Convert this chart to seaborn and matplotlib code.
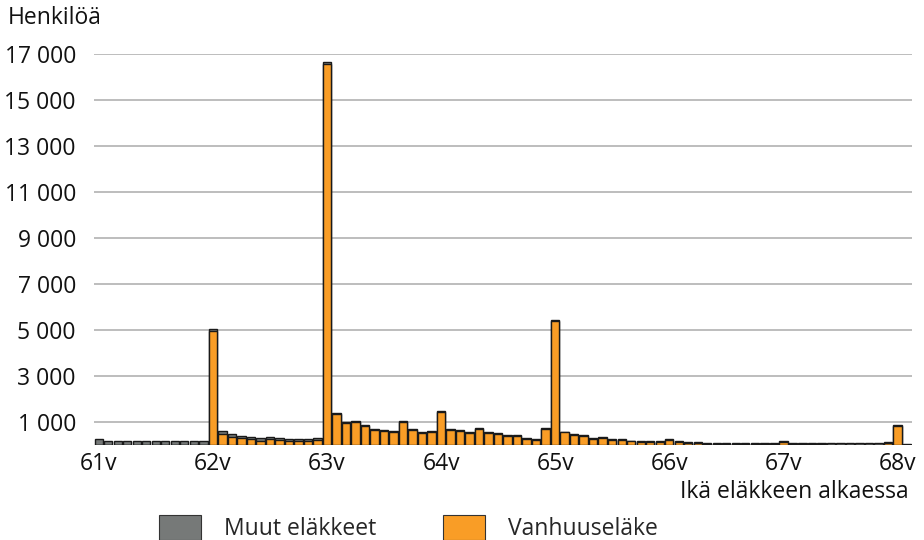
import numpy as np
import pandas as pd
import matplotlib
matplotlib.use("Agg")
import matplotlib.pyplot as plt
import matplotlib.patches as mpatches
import seaborn as sns

# Eläkkeelle siirtyneet alkamisiän (vuosi + kuukausi) mukaan
vanhuus = [0] * 12 + [
    4940, 480, 335, 300, 260, 190, 250, 200, 170, 160, 180, 210,      # 62v
    16550, 1340, 950, 990, 820, 640, 600, 570, 990, 640, 510, 570,    # 63v
    1425, 640, 600, 525, 700, 510, 495, 410, 410, 250, 220, 685,      # 64v
    5380, 545, 445, 400, 255, 300, 225, 215, 155, 140, 125, 125,      # 65v
    215, 125, 95, 80, 50, 45, 40, 35, 35, 30, 30, 30,                 # 66v
    125, 30, 30, 25, 25, 20, 20, 20, 15, 15, 15, 75,                  # 67v
    840, 0]                                                           # 68v
muut = [240, 180, 180, 185, 185, 180, 180, 180, 175, 170, 170, 190,   # 61v
        90, 140, 130, 100, 100, 110, 100, 90, 80, 80, 80, 90,         # 62v
        100] + [40] * 23 + [40] + [35] * 15 + [50] * 9 + [50] * 10 + [40, 30, 45]

ika = [f"{61 + i // 12}v{i % 12}kk" for i in range(len(vanhuus))]
tick_pos = list(range(0, 85, 12))
tick_labels = ["61v", "62v", "63v", "64v", "65v", "66v", "67v", "68v"]
y_ticks = list(range(1000, 18000, 2000))

df = pd.DataFrame({"ika": ika, "vanhuus": vanhuus, "muut": muut})
df["yht"] = df["vanhuus"] + df["muut"]

sns.set_theme(style="white")
plt.rcParams["font.family"] = ["Open Sans", "DejaVu Sans"]

harmaa = "#767978"
oranssi = "#f99d26"
fs = 16.5

fig = plt.figure(figsize=(9.24, 5.4), dpi=100)
ax = fig.add_axes([0.1017, 0.176, 0.885, 0.724])

# pinottu: harmaa = kokonaismäärä, oranssi päälle
sns.barplot(data=df, x="ika", y="yht", color=harmaa, saturation=1, width=0.88,
            edgecolor="#1a1a1a", linewidth=1.0, ax=ax, zorder=3)
sns.barplot(data=df, x="ika", y="vanhuus", color=oranssi, saturation=1, width=0.88,
            edgecolor="#1a1a1a", linewidth=1.0, ax=ax, zorder=4)

ax.set_ylim(0, 17000)
ax.set_xlim(-0.5, len(ika) - 0.5)
ax.set_yticks(y_ticks)
ax.set_yticklabels([f"{v:,}".replace(",", " ") for v in y_ticks])
ax.set_xticks(tick_pos)
ax.set_xticklabels(tick_labels)
ax.tick_params(axis="both", labelsize=fs, length=0, colors="#111111")
ax.tick_params(axis="y", pad=13)
ax.tick_params(axis="x", pad=5)
ax.yaxis.grid(True, color="#bdbdbd", linewidth=1.4, zorder=0)
ax.set_axisbelow(True)
ax.set_xlabel("")
ax.set_ylabel("")
for s in ax.spines.values():
    s.set_visible(False)

fig.text(0.008, 0.967, "Henkilöä", fontsize=fs, ha="left", va="center", color="#111111")
fig.text(0.983, 0.089, "Ikä eläkkeen alkaessa", fontsize=fs, ha="right", va="center", color="#111111")

handles = [mpatches.Patch(facecolor=harmaa, edgecolor="#333333", linewidth=0.8, label="Muut eläkkeet"),
           mpatches.Patch(facecolor=oranssi, edgecolor="#333333", linewidth=0.8, label="Vanhuuseläke")]
fig.legend(handles=handles, loc="center", bbox_to_anchor=(0.442, 0.022), ncol=2, frameon=False,
           fontsize=fs, handlelength=1.85, handleheight=1.3, handletextpad=1.0, columnspacing=2.9)

fig.savefig("out.png", dpi=100)
